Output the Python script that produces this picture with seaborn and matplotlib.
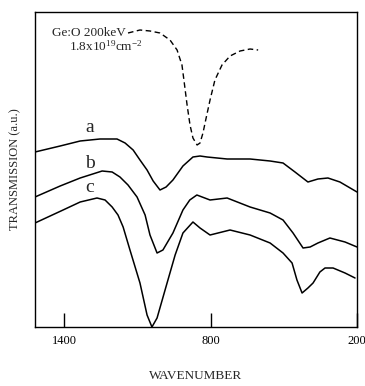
import numpy as np
import pandas as pd
import matplotlib
matplotlib.use("Agg")
import matplotlib.pyplot as plt
import seaborn as sns

# ---- data (wavenumber in cm^-1, transmission in arbitrary units) ----
wn_a = [1519, 1416, 1334, 1253, 1183, 1150, 1117, 1089, 1060, 1035, 1007, 982, 954, 913,
        872, 843, 814, 732, 638, 556, 503, 454, 401, 360, 319, 270, 200]
tr_a = [175, 181, 186, 188, 188, 184, 177, 167, 157, 146, 137, 140, 147, 161,
        170, 171, 170, 168, 168, 166, 164, 155, 145, 148, 149, 145, 135]

wn_b = [1519, 1416, 1334, 1244, 1203, 1171, 1138, 1101, 1068, 1048, 1019, 995, 954, 913,
        885, 856, 802, 732, 638, 556, 503, 462, 421, 392, 360, 311, 249, 200]
tr_b = [130, 141, 149, 156, 155, 150, 142, 130, 112, 92, 74, 77, 94, 117,
        127, 132, 127, 129, 120, 114, 107, 94, 79, 80, 84, 89, 85, 80]

wn_c = [1519, 1404, 1334, 1265, 1232, 1203, 1179, 1158, 1130, 1089, 1060, 1040, 1019, 978,
        945, 913, 872, 843, 802, 720, 638, 556, 503, 466, 446, 425, 401, 380, 352, 331,
        298, 249, 208]
tr_c = [104, 117, 125, 129, 127, 120, 112, 100, 77, 44, 12, 0, 9, 44,
        72, 94, 105, 99, 92, 97, 92, 84, 74, 64, 47, 34, 39, 44, 55, 59,
        59, 54, 49]

wn_ref = [1138, 1089, 1048, 1007, 966, 937, 917, 909, 896, 884, 872, 855, 843, 831,
          818, 802, 782, 753, 720, 679, 638, 605]
tr_ref = [294, 297, 296, 294, 287, 277, 262, 247, 222, 202, 189, 182, 184, 194,
          209, 227, 247, 262, 271, 276, 278, 277]

curve_labels = ["a", "b", "c"]
xticks = [1400, 800, 200]
xlabel = "WAVENUMBER"
ylabel = "TRANSMISSION (a.u.)"
note1 = "Ge:O 200keV"
note2 = r"1.8x10$^{19}$cm$^{-2}$"

# ---- plotting ----
sns.set_style("white")
plt.rcParams["font.family"] = ["Liberation Serif", "DejaVu Serif"]
plt.rcParams["mathtext.fontset"] = "custom"
plt.rcParams["mathtext.rm"] = "Liberation Serif"
plt.rcParams["mathtext.it"] = "Liberation Serif"

fig = plt.figure(figsize=(3.65, 3.86), dpi=100)
ax = fig.add_axes([35 / 365, 1 - 327 / 386, 322 / 365, 315 / 386])

for wn, tr in [(wn_a, tr_a), (wn_b, tr_b), (wn_c, tr_c)]:
    df = pd.DataFrame({"wn": wn, "tr": tr})
    sns.lineplot(data=df, x="wn", y="tr", sort=False, color="black",
                 linewidth=1.1, ax=ax)

df_ref = pd.DataFrame({"wn": wn_ref, "tr": tr_ref})
sns.lineplot(data=df_ref, x="wn", y="tr", sort=False, color="black",
             linewidth=1.0, ax=ax, linestyle=(0, (4, 2.5)))

ax.set_xlim(1519, 200)
ax.set_ylim(0, 315)

ax.text(1294, 199, curve_labels[0], fontsize=14, ha="center", va="center")
ax.text(1294, 164, curve_labels[1], fontsize=14, ha="center", va="center")
ax.text(1294, 140, curve_labels[2], fontsize=14, ha="center", va="center")

ax.text(1449, 294, note1, fontsize=9.5, ha="left", va="center")
ax.text(1380, 281, note2, fontsize=9.5, ha="left", va="center")

ax.set_xticks(xticks)
ax.set_xticklabels([str(t) for t in xticks], fontsize=9)
ax.set_yticks([])
ax.tick_params(axis="x", direction="in", length=10, width=1.0, pad=6,
               bottom=True, colors="black")
ax.set_xlabel(xlabel, fontsize=9.5, labelpad=16)
ax.set_ylabel(ylabel, fontsize=9, labelpad=10)

for s in ax.spines.values():
    s.set_color("black")
    s.set_linewidth(1.0)
    s.set_visible(True)

fig.savefig("out.png", dpi=100)
